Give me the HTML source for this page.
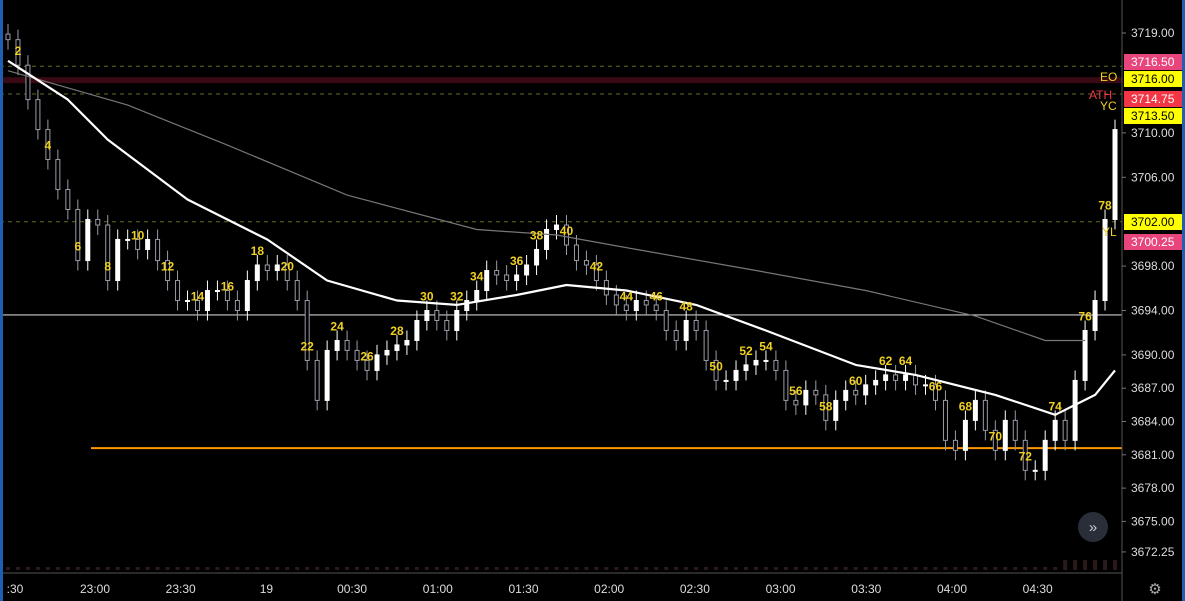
<!DOCTYPE html>
<html><head><meta charset="utf-8"><style>
body{margin:0;background:#000;overflow:hidden}
svg{display:block;font-family:"Liberation Sans",sans-serif}
</style></head><body>
<svg id="c" width="1185" height="601">
<rect width="1185" height="601" fill="#000"/>
</svg>
<script>
const closes=[3718.4,3716.1,3713.0,3710.3,3707.6,3704.9,3703.1,3698.5,3702.2,3701.7,3696.7,3700.4,3700.4,3699.5,3700.4,3698.5,3696.7,3694.9,3694.9,3694.0,3695.8,3695.8,3694.9,3694.0,3696.7,3698.1,3697.6,3698.1,3696.7,3694.9,3689.5,3685.9,3690.4,3691.3,3690.4,3689.5,3688.6,3690.0,3690.4,3690.9,3691.3,3693.1,3694.0,3693.1,3692.2,3694.0,3694.9,3695.8,3697.6,3697.2,3696.7,3697.2,3698.1,3699.5,3701.3,3701.7,3699.9,3698.5,3698.1,3696.7,3695.4,3694.5,3694.0,3694.9,3694.5,3694.0,3692.2,3691.3,3693.1,3692.2,3689.5,3687.7,3687.7,3688.6,3689.1,3689.5,3689.5,3688.6,3685.9,3685.5,3686.8,3686.4,3684.1,3685.9,3686.8,3686.4,3687.3,3687.7,3688.2,3687.7,3688.2,3687.3,3687.3,3685.9,3682.3,3681.4,3684.1,3685.9,3683.2,3681.4,3684.1,3682.3,3679.6,3679.6,3682.3,3684.1,3682.3,3687.7,3692.2,3694.9,3702.2,3710.3];
const maFastIdx=[0,6,10,18,26,32,39,45,51,56,62,69,76,85,91,99,105,109,111];
const maFastVal=[3716.5,3713.0,3709.4,3704.0,3700.4,3696.7,3694.9,3694.5,3695.4,3696.3,3695.8,3694.5,3692.2,3689.1,3688.2,3686.4,3684.6,3686.4,3688.6];
const maSlowIdx=[0,12,22,34,47,55,63,75,86,97,104,108];
const maSlowVal=[3715.6,3712.5,3708.9,3704.4,3701.3,3700.8,3699.5,3697.6,3695.8,3693.5,3691.3,3691.3];
const labelText=[2,4,6,8,10,12,14,16,18,20,22,24,26,28,30,32,34,36,38,40,42,44,46,48,50,52,54,56,58,60,62,64,66,68,70,72,74,76,78];
const labelIdx=[1,4,7,10,13,16,19,22,25,28,30,33,36,39,42,45,47,51,53,56,59,62,65,68,71,74,76,79,82,85,88,90,93,96,99,102,105,108,110];
const yTicks=[3719.00,3710.00,3706.00,3698.00,3694.00,3690.00,3687.00,3684.00,3681.00,3678.00,3675.00,3672.25];
const tagPrices=[3716.50,3716.00,3714.75,3713.50,3702.00,3700.25];
const tagRows=[62,79,99,116,222,242];
const tagColors=[["#e8457c","#fff"],["#ffff00","#000"],["#f23645","#fff"],["#ffff00","#000"],["#ffff00","#000"],["#e8457c","#fff"]];
const timeLabels=[":30","23:00","23:30","19","00:30","01:00","01:30","02:00","02:30","03:00","03:30","04:00","04:30"];

const NS="http://www.w3.org/2000/svg",svg=document.getElementById('c');
const Y=p=>33+(3719-p)*11.1;
const X=i=>8+i*(1107/(closes.length-1));
function el(t,a,parent){const e=document.createElementNS(NS,t);for(const k in a)e.setAttribute(k,a[k]);(parent||svg).appendChild(e);return e;}
[3716.0,3713.5,3702.0].forEach(p=>{const l=el('line',{x1:0,x2:1122,y1:Y(p),y2:Y(p),stroke:'#6b6b20','stroke-dasharray':'4,4'});

});
const band=el('rect',{x:0,y:Y(3714.75)-3,width:1122,height:6,fill:'#3a0a14'});


const hl=el('line',{x1:0,x2:1122,y1:Y(3693.6),y2:Y(3693.6),stroke:'#ccc','stroke-width':1.2});


const ol=el('line',{x1:91,x2:1122,y1:Y(3681.6),y2:Y(3681.6),stroke:'#ff9800','stroke-width':2});


// volume
closes.forEach((c,i)=>{const h=i>105?10:3;const v=el('rect',{x:X(i)-2,y:570-h,width:4,height:h,fill:'#2a1a1a'});

});
closes.forEach((c,i)=>{const o=i?closes[i-1]:c+0.5;const up=c>=o;const x=X(i);
const hi=Math.max(o,c)+0.9,lo=Math.min(o,c)-0.9;
const g=el('g',{});


el('line',{x1:x,x2:x,y1:Y(hi),y2:Y(lo),stroke:up?'#fff':'#9a9aa6'},g);
el('rect',{x:x-2,y:Y(Math.max(o,c)),width:4,height:Math.max(1,Math.abs(Y(o)-Y(c))),fill:up?'#fff':'#000',stroke:up?'#fff':'#9a9aa6'},g);});
function path(idx,val){return idx.map((i,k)=>(k?'L':'M')+X(i).toFixed(1)+' '+Y(val[k]).toFixed(1)).join(' ');}
const ms=el('path',{d:path(maSlowIdx,maSlowVal),fill:'none',stroke:'#777','stroke-width':1.2});


const mf=el('path',{d:path(maFastIdx,maFastVal),fill:'none',stroke:'#fff','stroke-width':2.2,'stroke-linejoin':'round'});


labelText.forEach((t,k)=>{const i=labelIdx[k];const tx=el('text',{x:X(i),y:Y(closes[i])-10,fill:'#f0d020','font-size':12,'font-weight':'bold','text-anchor':'middle'});tx.textContent=t;

});
el('line',{x1:1122,x2:1122,y1:0,y2:601,stroke:'#555'});
el('line',{x1:0,x2:1122,y1:573,y2:573,stroke:'#555'});
yTicks.forEach(p=>{const t=el('text',{x:1131,y:Y(p)+4,fill:'#ddd','font-size':12});t.textContent=p.toFixed(2);


el('line',{x1:1122,x2:1126,y1:Y(p),y2:Y(p),stroke:'#777'});});
tagPrices.forEach((p,k)=>{const g=el('g',{});


const yy=tagRows[k];
el('rect',{x:1124,y:yy-8,width:58,height:16,fill:tagColors[k][0]},g);
const t=el('text',{x:1131,y:yy+4,fill:tagColors[k][1],'font-size':12},g);t.textContent=p.toFixed(2);});
[["EO",1100,81,"#f0d020"],["ATH",1089,99,"#f23645"],["YC",1100,110,"#f0d020"],["YL",1102,236,"#f0d020"]].forEach(([s,x,y,c])=>{const t=el('text',{x:x,y:y,fill:c,'font-size':12});t.textContent=s;

});
timeLabels.forEach((s,k)=>{const x=k==0?15:95+(k-1)*85.7;const t=el('text',{x:x,y:593,fill:'#ddd','font-size':12,'text-anchor':'middle'});t.textContent=s;

});
const sb=el('g',{});


el('circle',{cx:1093,cy:527,r:15,fill:'#2a2e39'},sb);
const st=el('text',{x:1093,y:532,fill:'#ccc','font-size':15,'text-anchor':'middle'},sb);st.textContent='»';
const gear=el('text',{x:1155,y:594,fill:'#aaa','font-size':15,'text-anchor':'middle'});gear.textContent='⚙';


el('rect',{x:0,y:0,width:3,height:601,fill:'#1e5fb4'});
el('rect',{x:1182,y:0,width:3,height:601,fill:'#1e5fb4'});
</script>
</body></html>
